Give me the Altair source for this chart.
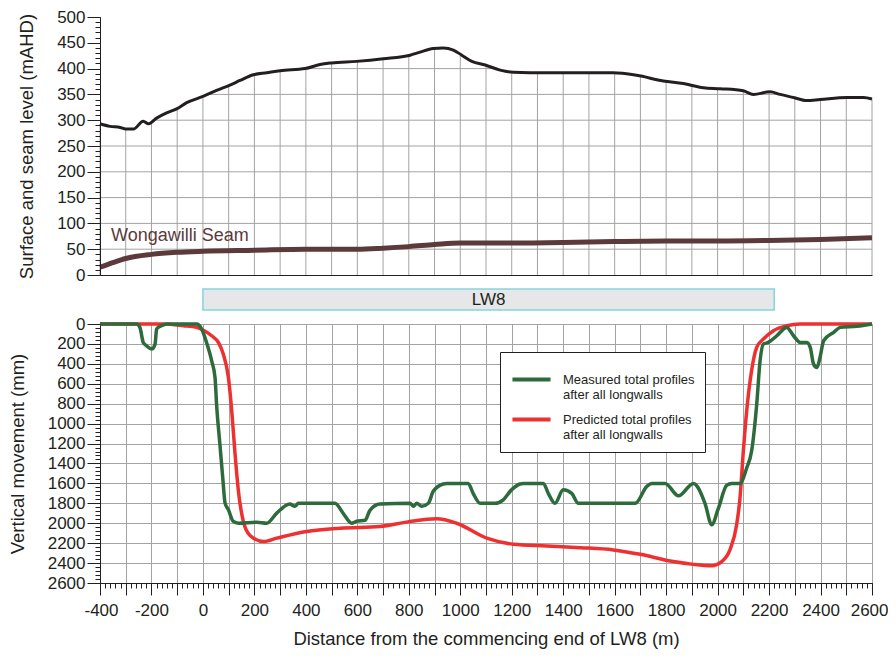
import altair as alt
import pandas as pd

# ---------------- data ----------------
surface_x = [-400, -361, -322, -299, -270, -232, -212, -180, -141, -102, -63, 0, 53, 105, 144, 196,
             248, 300, 397, 455, 500, 597, 701, 805, 844, 895, 934, 973, 1006, 1045, 1097, 1155,
             1206, 1336, 1466, 1595, 1686, 1789, 1867, 1945, 2010, 2100, 2139, 2204, 2243, 2295,
             2346, 2398, 2502, 2567, 2600]
surface_y = [293, 288, 286, 283, 283, 298, 293, 304, 314, 322, 334, 346, 358, 368, 377, 388,
             392, 396, 400, 408, 411, 414, 419, 426, 432, 439, 440, 436, 426, 414, 407, 397,
             393, 392, 392, 392, 387, 376, 371, 363, 361, 357, 350, 355, 350, 344,
             338, 340, 344, 344, 341]

# the cross-section grid is only drawn below the ground surface:
# ground level read at each vertical grid line, and where each horizontal grid line meets the ground
grid_x = list(range(-400, 2601, 100))
ground_at_grid = [293, 283, 296, 322, 346, 367, 388, 396, 400, 411, 414, 419, 425, 439, 428, 406,
                  393, 392, 392, 392, 392, 386, 375, 368, 361, 357, 355, 343, 340, 344, 341]
hgrid_level = [50, 100, 150, 200, 250, 300, 350, 400]
hgrid_from = [-400, -400, -400, -400, -400, -200, 15, 397]
hgrid_to = [2600, 2600, 2600, 2600, 2600, 2600, 2240, 1138]

seam_x = [-400, -350, -300, -200, -100, 0, 200, 400, 600, 700, 800, 900, 1000, 1200, 1400,
          1600, 1800, 2000, 2200, 2400, 2600]
seam_y = [15, 24, 32, 40, 44, 46, 48, 50, 50, 52, 55, 59, 62, 62, 63, 65, 66, 66, 67, 69, 72]

measured_x = [-400, -258, -245, -232, -219, -199, -186, -180, -161, -141, -24, -5, 14, 34, 47,
              53, 66, 77, 86, 99, 118, 138, 209, 248, 287, 338, 357, 371, 513, 545, 578, 597,
              630, 649, 688, 805, 818, 831, 850, 876, 895, 934, 947, 1031, 1050, 1077, 1135,
              1167, 1199, 1232, 1245, 1323, 1342, 1368, 1400, 1433, 1459, 1680, 1725, 1745,
              1796, 1848, 1906, 1951, 1977, 2003, 2035, 2055, 2087, 2113, 2132, 2152, 2165,
              2178, 2197, 2230, 2269, 2295, 2321, 2347, 2360, 2373, 2386, 2398, 2412, 2451,
              2477, 2541, 2600]
measured_y = [0, 0, 34, 185, 219, 252, 202, 50, 17, 0, 0, 50, 185, 370, 538,
              806, 1209, 1545, 1798, 1865, 1982, 2000, 1990, 2000, 1898, 1808, 1830, 1800, 1800, 1900, 2000, 1980,
              1970, 1870, 1808, 1800, 1830, 1800, 1830, 1800, 1680, 1606, 1600, 1600, 1700, 1800, 1800,
              1765, 1665, 1606, 1600, 1600, 1700, 1800, 1665, 1700, 1800, 1800, 1630, 1600,
              1600, 1725, 1600, 1800, 2016, 1850, 1620, 1600, 1600, 1445, 1277, 806, 370,
              202, 185, 118, 34, 118, 185, 185, 235, 403, 437, 336, 168, 84,
              34, 23, 0]

predicted_x = [-400, -150, -76, -24, 0, 34, 60, 79, 99, 112, 125, 138, 157, 183, 235, 287, 403,
               533, 688, 792, 908, 986, 1103, 1206, 1336, 1466, 1595, 1699, 1828, 1906, 1977,
               2016, 2048, 2074, 2087, 2100, 2113, 2132, 2152, 2178, 2217, 2269, 2321, 2600]
predicted_y = [0, 0, 17, 34, 60, 118, 185, 302, 538, 874, 1310, 1680, 1982, 2123, 2184, 2150, 2083,
               2050, 2033, 1989, 1955, 2000, 2150, 2211, 2228, 2245, 2268, 2312, 2385, 2413, 2426,
               2385, 2268, 2016, 1747, 1277, 874, 470, 235, 151, 67, 17, 0, 0]

series_names = ["Measured total profiles", "Predicted total profiles"]
series_suffix = "after all longwalls"
series_colors = ["#2d6a3c", "#ee3030"]

panel_name = "LW8"
panel_start, panel_end = 0, 2220

seam_label = "Wongawilli Seam"
seam_label_x, seam_label_y = -357, 76

x_title = "Distance from the commencing end of LW8 (m)"
top_y_title = "Surface and seam level (mAHD)"
bottom_y_title = "Vertical movement (mm)"

x_domain = [-400, 2600]
top_y_domain = [0, 500]
bottom_y_domain = [0, 2600]

# ---------------- styling ----------------
FONT = "Liberation Sans"
INK = "#231f20"
GRID = "#a3a3a3"
SEAM = "#5c3a3b"
W, H_TOP, H_LW, H_BOT = 772, 258, 21, 259


def rng(a, b, s):
    return list(range(a, b + 1, s))


def tick_axis(values, size, orient):
    return alt.Axis(values=values, orient=orient, grid=False, domain=False, ticks=True,
                    tickSize=size, tickColor=INK, tickWidth=1, labels=False, title=None, zindex=1)


xscale = alt.Scale(domain=x_domain, nice=False, zero=False)
top_yscale = alt.Scale(domain=top_y_domain, nice=False, zero=False)
bot_yscale = alt.Scale(domain=bottom_y_domain, nice=False, zero=False, reverse=True)

surf_df = pd.DataFrame({"x": surface_x, "y": surface_y})
seam_df = pd.DataFrame({"x": seam_x, "y": seam_y})
label_df = pd.DataFrame({"x": [seam_label_x], "y": [seam_label_y], "t": [seam_label]})
vgrid_df = pd.DataFrame({"x": grid_x, "top": ground_at_grid, "base": top_y_domain[0]})
hgrid_df = pd.DataFrame({"y": hgrid_level, "x1": hgrid_from, "x2": hgrid_to})

# ---------------- top panel ----------------
vgrid = alt.Chart(vgrid_df).mark_rule(color=GRID, strokeWidth=1).encode(
    x=alt.X("x:Q", scale=xscale, axis=None),
    y=alt.Y("top:Q", scale=top_yscale, axis=None),
    y2="base:Q",
)
hgrid = alt.Chart(hgrid_df).mark_rule(color=GRID, strokeWidth=1).encode(
    x=alt.X("x1:Q", scale=xscale, axis=None),
    x2="x2:Q",
    y=alt.Y("y:Q", scale=top_yscale, axis=None),
)

surface = alt.Chart(surf_df).mark_line(color=INK, strokeWidth=3, interpolate="monotone").encode(
    x=alt.X("x:Q", scale=xscale,
            axis=alt.Axis(orient="bottom", domain=True, domainColor=INK, domainWidth=1,
                          ticks=False, labels=False, grid=False, title=None, zindex=1)),
    y=alt.Y("y:Q", scale=top_yscale,
            axis=alt.Axis(orient="left", values=rng(0, 500, 50), grid=False, domain=True,
                          domainColor=INK, ticks=True, tickSize=13, tickColor=INK,
                          format="d",
                          labelFont=FONT, labelFontSize=17, labelColor=INK, labelPadding=2,
                          title=top_y_title, titleFont=FONT, titleFontSize=18.5,
                          titleFontWeight="normal", titleColor=INK, titlePadding=20,
                          zindex=1)),
)

seam = alt.Chart(seam_df).mark_line(color=SEAM, strokeWidth=5, interpolate="monotone").encode(
    x=alt.X("x:Q", scale=xscale, axis=None),
    y=alt.Y("y:Q", scale=top_yscale, axis=tick_axis(rng(0, 500, 10), 5, "left")),
)

seam_text = alt.Chart(label_df).mark_text(align="left", baseline="middle", font=FONT,
                                          fontSize=18, color=SEAM).encode(
    x=alt.X("x:Q", scale=xscale, axis=None),
    y=alt.Y("y:Q", scale=top_yscale, axis=None),
    text="t:N",
)

top = alt.layer(vgrid, hgrid, surface, seam, seam_text).resolve_axis(
    x="independent", y="independent").properties(width=W, height=H_TOP)

# ---------------- LW8 panel ----------------
lw_df = pd.DataFrame({"start": [panel_start], "end": [panel_end], "name": [panel_name]})
lw_df["mid"] = (lw_df["start"] + lw_df["end"]) / 2

lw_rect = alt.Chart(lw_df).mark_rect(fill="#e6e7e8", stroke="#86d3de", strokeWidth=1.5).encode(
    x=alt.X("start:Q", scale=xscale, axis=None),
    x2="end:Q",
)
lw_text = alt.Chart(lw_df).mark_text(font=FONT, fontSize=17, color=INK, baseline="middle").encode(
    x=alt.X("mid:Q", scale=xscale, axis=None),
    text="name:N",
)
lw = alt.layer(lw_rect, lw_text).properties(width=W, height=H_LW)

# ---------------- bottom panel ----------------
meas_df = pd.DataFrame({"x": measured_x, "y": measured_y, "s": series_names[0]})
pred_df = pd.DataFrame({"x": predicted_x, "y": predicted_y, "s": series_names[1]})

legend = alt.Legend(
    title=None, orient="none", legendX=400, legendY=28, direction="vertical",
    symbolType="stroke", symbolSize=1450, symbolStrokeWidth=4,
    labelFont=FONT, labelFontSize=13, labelColor=INK, labelOffset=10, labelLimit=300,
    labelBaseline="middle",
    labelExpr="[datum.label, '" + series_suffix + "']",
    padding=10, clipHeight=35, rowPadding=0,
    strokeColor=INK, fillColor="white",
)
color = alt.Color("s:N", scale=alt.Scale(domain=series_names, range=series_colors), legend=legend)

pred = alt.Chart(pred_df).mark_line(strokeWidth=3.5, interpolate="monotone").encode(
    x=alt.X("x:Q", scale=xscale,
            axis=alt.Axis(orient="bottom", values=rng(-400, 2600, 100), grid=True,
                          gridColor=GRID, gridWidth=1, gridOpacity=1, domain=True,
                          domainColor=INK, ticks=True, tickSize=12, tickColor=INK,
                          labelExpr="datum.value % 200 === 0 ? '' + datum.value : ''",
                          labelOverlap=False, labelFlush=True, labelFlushOffset=16,
                          labelFont=FONT,
                          labelFontSize=17, labelColor=INK, labelPadding=7,
                          title=x_title, titleFont=FONT, titleFontSize=18.5,
                          titleFontWeight="normal", titleColor=INK, titlePadding=11)),
    y=alt.Y("y:Q", scale=bot_yscale,
            axis=alt.Axis(orient="left", values=rng(0, 2600, 200), grid=True, gridColor=GRID,
                          gridWidth=1, gridOpacity=1, domain=True, domainColor=INK,
                          ticks=True, tickSize=13, tickColor=INK, format="d", labelFont=FONT,
                          labelFontSize=17, labelColor=INK, labelPadding=2,
                          labelOverlap=False,
                          title=bottom_y_title, titleFont=FONT, titleFontSize=18.5,
                          titleFontWeight="normal", titleColor=INK, titlePadding=20)),
    color=color,
)

meas = alt.Chart(meas_df).mark_line(strokeWidth=3.5, interpolate="monotone").encode(
    x=alt.X("x:Q", scale=xscale, axis=tick_axis(rng(-400, 2600, 20), 5, "bottom")),
    y=alt.Y("y:Q", scale=bot_yscale, axis=tick_axis(rng(0, 2600, 40), 5, "left")),
    color=color,
)

bottom = alt.layer(pred, meas).resolve_axis(x="independent", y="independent").properties(
    width=W, height=H_BOT)

chart = alt.vconcat(top, lw, bottom, spacing=14, bounds="flush").resolve_scale(
    color="independent").properties(
    padding={"left": 0, "top": 0, "right": 0, "bottom": 2}
).configure(font=FONT).configure_view(stroke=None)

chart.save("out.html", embed_options={"renderer": "svg", "actions": False})
